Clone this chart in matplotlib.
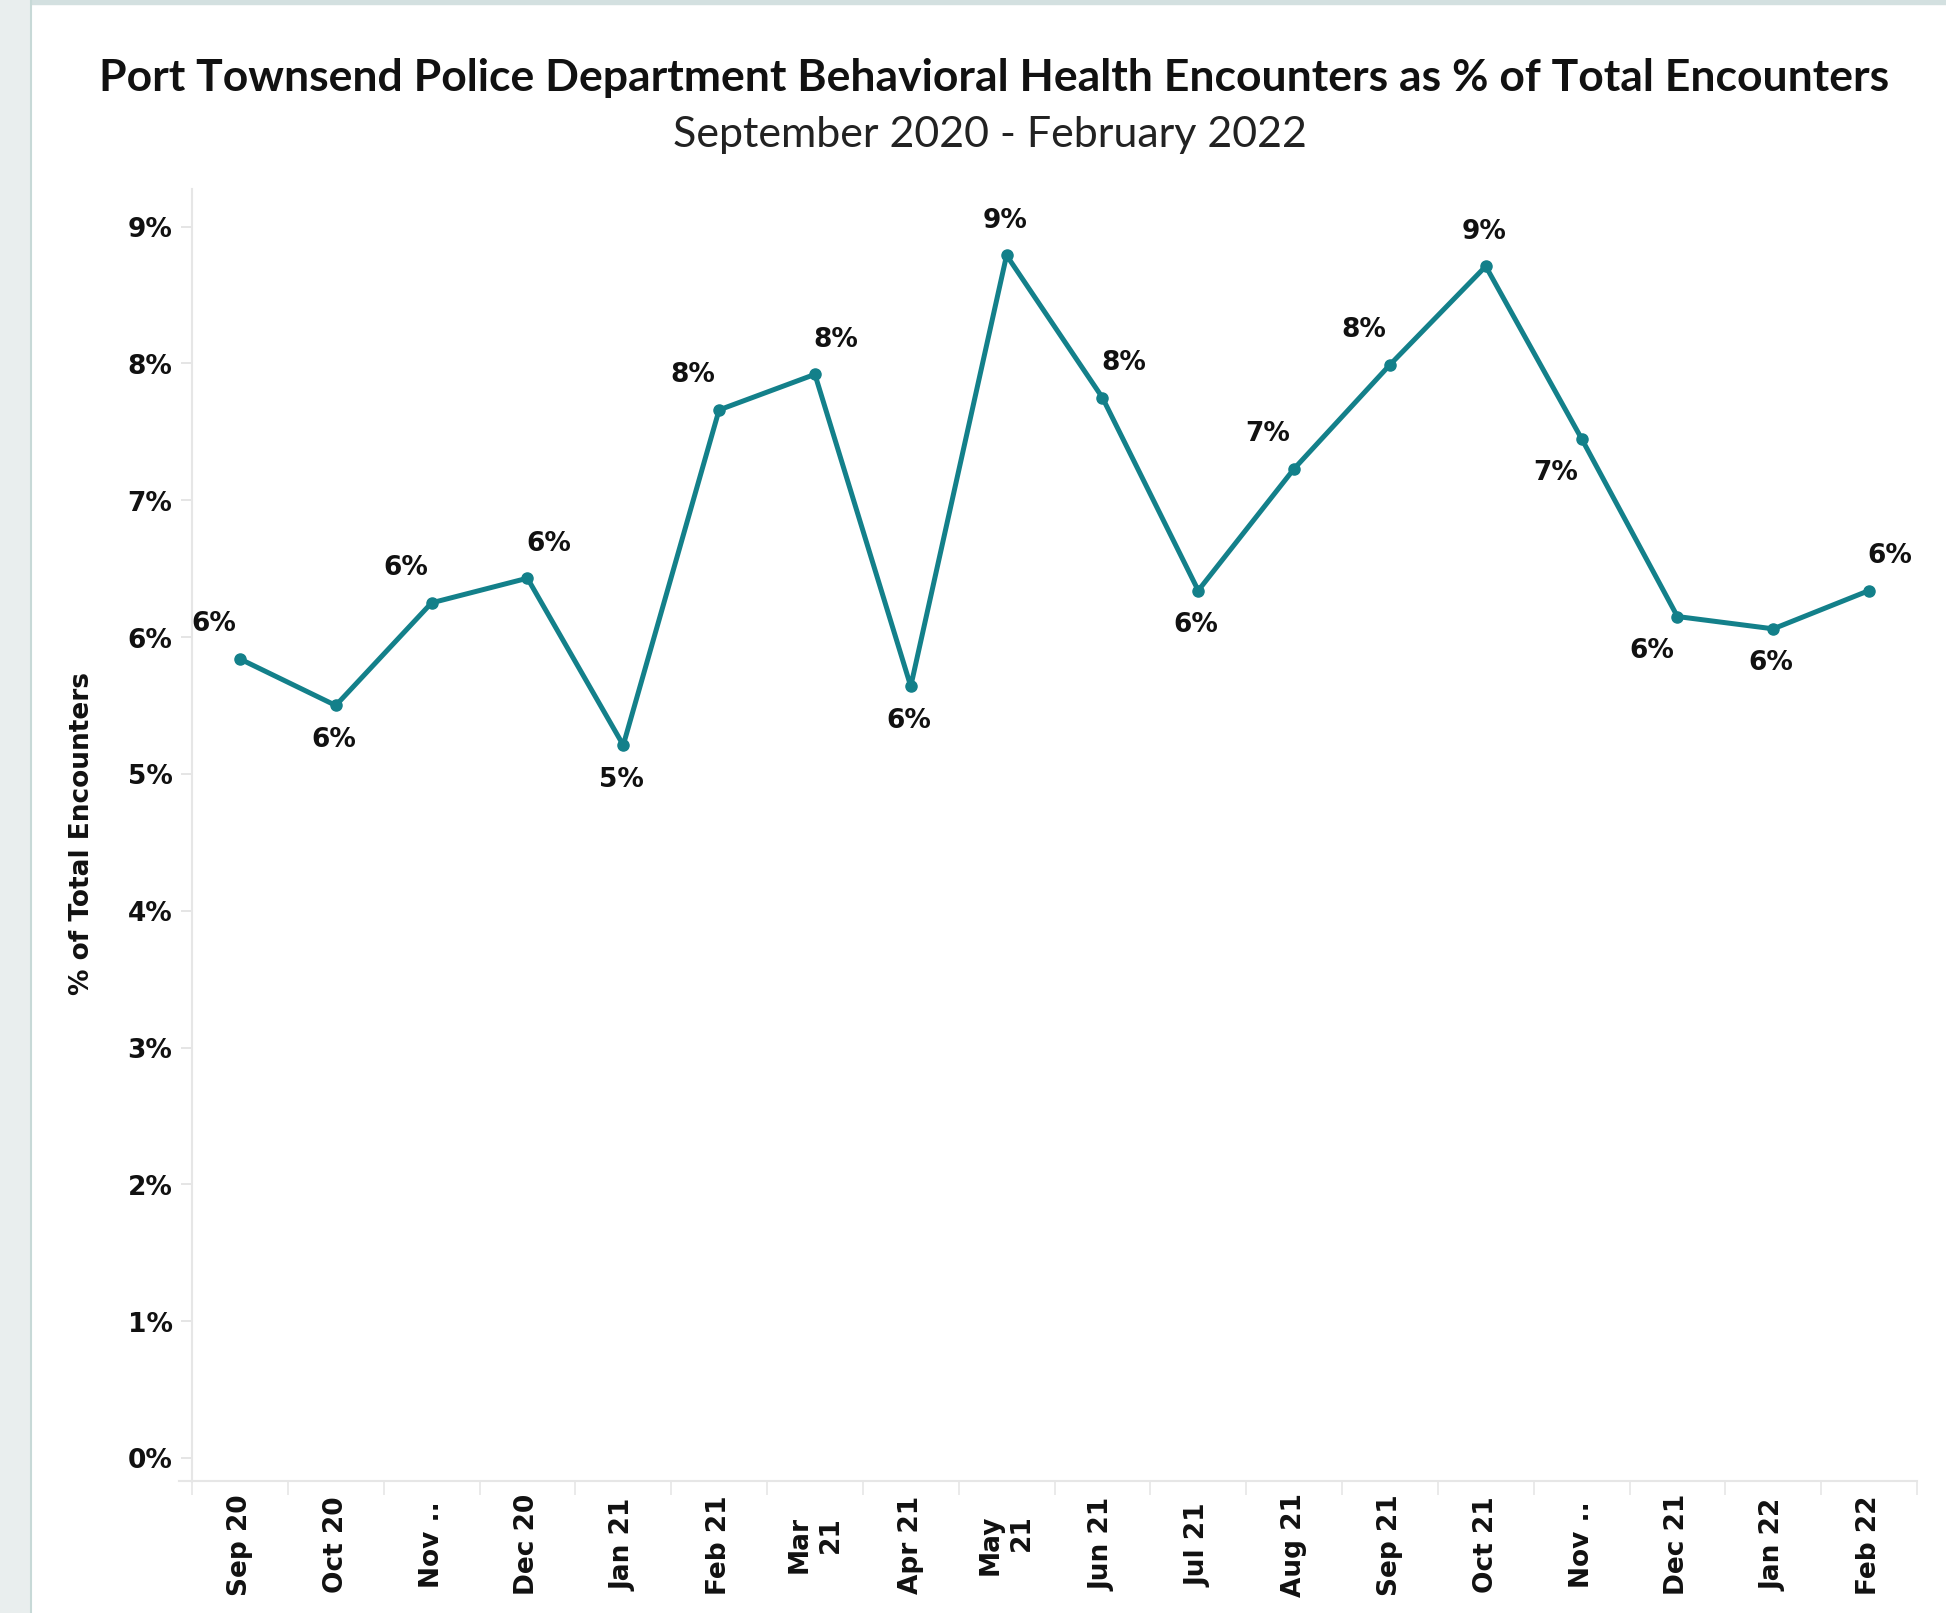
import matplotlib.pyplot as plt
import matplotlib.transforms as mtransforms
from matplotlib.patches import Rectangle
from matplotlib.lines import Line2D
import numpy as np

# data
months = ["Sep 20", "Oct 20", "Nov ..", "Dec 20", "Jan 21", "Feb 21", "Mar\n21", "Apr 21", "May\n21",
          "Jun 21", "Jul 21", "Aug 21", "Sep 21", "Oct 21", "Nov ..", "Dec 21", "Jan 22", "Feb 22"]
pct = [5.84, 5.50, 6.25, 6.43, 5.21, 7.66, 7.92, 5.64, 8.79,
       7.75, 6.34, 7.23, 7.99, 8.71, 7.45, 6.15, 6.06, 6.34]
y_ticks = [0, 1, 2, 3, 4, 5, 6, 7, 8, 9]

# where each value label sits relative to its point
label_pos = ["ul", "b", "ul", "ur", "b", "ul", "ur", "b", "u",
             "ur", "b", "ul", "ul", "u", "bl", "bl", "b", "ur"]
offsets = {"u": (-2, 35), "b": (-2, -34), "ul": (-26, 35), "ur": (21, 35), "bl": (-26, -34)}

teal = "#13808A"
bold = dict(family="DejaVu Sans", weight="bold", color="#111111")
fs = 19

fig = plt.figure(figsize=(19.46, 16.135), dpi=100)
fig.patch.set_facecolor("white")

# panel frame (grey strip on the left, thin border on top)
fig.patches.append(Rectangle((0, 0), 30 / 1946, 1, transform=fig.transFigure, color="#E9EEEE", zorder=0))
fig.lines.append(Line2D([31 / 1946, 31 / 1946], [0, 1], transform=fig.transFigure, color="#C7D9D7", lw=1.5))
fig.patches.append(Rectangle((31 / 1946, 1 - 4 / 1613), 1, 4 / 1613, transform=fig.transFigure, color="#D3E0E0", zorder=0))

ax = fig.add_axes([192 / 1946, 132 / 1613, 1725 / 1946, 1292 / 1613])
x = np.arange(len(months))
ax.plot(x, pct, color=teal, lw=3.6, marker="o", markersize=8, solid_capstyle="round", solid_joinstyle="round")

for xi, yi, p in zip(x, pct, label_pos):
    ax.annotate(f"{yi:.0f}%", (xi, yi), xytext=offsets[p], textcoords="offset pixels",
                ha="center", va="center", fontsize=fs, **bold)

ax.set_xlim(-0.5, len(months) - 0.5)
ax.set_ylim(-0.168, 9.278)

for s in ["top", "right"]:
    ax.spines[s].set_visible(False)
for s in ["left", "bottom"]:
    ax.spines[s].set_color("#E6E6E6")
    ax.spines[s].set_linewidth(1.5)
# bottom line runs a bit past the y axis
ax.plot([-0.64, -0.5], [-0.168, -0.168], color="#E6E6E6", lw=1.5, clip_on=False)

ax.set_yticks(y_ticks)
ax.set_yticklabels([f"{t}%" for t in y_ticks], fontsize=fs, **bold)
ax.tick_params(axis="y", length=8, width=1.2, color="#E0E0E0", pad=6)

ax.set_xticks(x)
ax.set_xticklabels([])
ax.set_xticks(np.arange(-0.5, len(months)), minor=True)
ax.tick_params(axis="x", which="major", length=0)
ax.tick_params(axis="x", which="minor", length=10, width=1.2, color="#E6E6E6")

trans = mtransforms.blended_transform_factory(ax.transData, ax.transAxes)
for xi, m in zip(x, months):
    ax.text(xi, -0.049, m, transform=trans, rotation=90, ha="center", va="center",
            multialignment="right", fontsize=fs, linespacing=1.25, **bold)

fig.text(82 / 1946, 1 - 833 / 1613, "% of Total Encounters", rotation=90, ha="center", va="center",
         fontsize=fs, **bold)

fig.text(994 / 1946, 1 - 78 / 1613, "Port Townsend Police Department Behavioral Health Encounters as % of Total Encounters",
         ha="center", va="center", fontsize=32, family="Lato", weight="bold", color="#111111")
fig.text(990 / 1946, 1 - 135 / 1613, "September 2020 - February 2022",
         ha="center", va="center", fontsize=31, family="Lato", color="#222222")

plt.savefig("out.png", dpi=100)
